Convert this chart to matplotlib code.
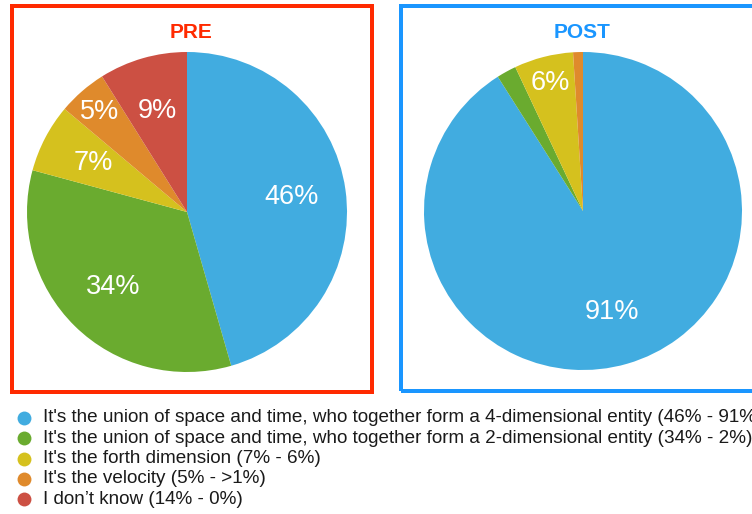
import matplotlib
matplotlib.use("Agg")
import matplotlib.pyplot as plt
from matplotlib.patches import Rectangle
from matplotlib.lines import Line2D
import numpy as np

categories = [
    "It's the union of space and time, who together form a 4-dimensional entity (46% - 91%)",
    "It's the union of space and time, who together form a 2-dimensional entity (34% - 2%)",
    "It's the forth dimension (7% - 6%)",
    "It's the velocity (5% - >1%)",
    "I don\u2019t know (14% - 0%)",
]
colors = ["#41ace0", "#6aab2f", "#d5c11e", "#df8a2c", "#cc5043"]

pre_values = [46, 34, 7, 5, 9]
post_values = [91, 2, 6, 1, 0]
min_label = 3  # slices smaller than this are not labelled

W, H = 752, 514
fig = plt.figure(figsize=(W / 100, H / 100), dpi=100)
fig.patch.set_facecolor("white")
FONT = ["Liberation Sans", "DejaVu Sans"]


def fx(px):
    return px / W


def fy(py):
    return 1 - py / H


def draw_pie(cx, cy, r, values, outer_idx):
    ax = fig.add_axes([fx(cx - r), fy(cy + r), 2 * r / W, 2 * r / H])
    total = sum(values)
    wedges, texts, autotexts = ax.pie(
        values, colors=colors, startangle=90, counterclock=False,
        autopct=lambda p: f"{round(p * total / 100)}%" if p * total / 100 >= min_label else "",
        pctdistance=0.66, radius=1.0,
        wedgeprops=dict(linewidth=0),
        textprops=dict(color="white", fontsize=19.5, family=FONT),
    )
    for i in outer_idx:
        x, y = autotexts[i].get_position()
        autotexts[i].set_position((x * 0.83 / 0.66, y * 0.83 / 0.66))
    ax.set_xlim(-1, 1)
    ax.set_ylim(-1, 1)
    ax.set_aspect("equal")
    ax.axis("off")
    return ax


draw_pie(187, 212, 160, pre_values, outer_idx=[3])
draw_pie(583, 211, 159, post_values, outer_idx=[2])

# frames
lw = 4 * 72 / 100
fig.add_artist(Rectangle((fx(12), fy(392)), fx(372) - fx(12), fy(6) - fy(392),
                         transform=fig.transFigure, fill=False, edgecolor="#ff2a00",
                         linewidth=lw, clip_on=False))
fig.add_artist(Rectangle((fx(401), fy(391)), fx(770) - fx(401), fy(6) - fy(391),
                         transform=fig.transFigure, fill=False, edgecolor="#1a96ff",
                         linewidth=lw, clip_on=False))

# titles
fig.text(fx(191), fy(38), "PRE", color="#ff2a00", fontsize=15, fontweight="bold",
         ha="center", va="baseline", family=FONT)
fig.text(fx(582), fy(38), "POST", color="#1a96ff", fontsize=15, fontweight="bold",
         ha="center", va="baseline", family=FONT)

# legend
for i, (lab, col) in enumerate(zip(categories, colors)):
    y = 418 + 20.3 * i
    fig.add_artist(Line2D([fx(24)], [fy(y)], marker="o", markersize=10,
                          markerfacecolor=col, markeredgewidth=0, linestyle="none",
                          transform=fig.transFigure))
    fig.text(fx(43), fy(y), lab, fontsize=13.6, color="#1a1a1a", ha="left",
             va="center", family=FONT)

fig.savefig("out.png", dpi=100, facecolor="white")
